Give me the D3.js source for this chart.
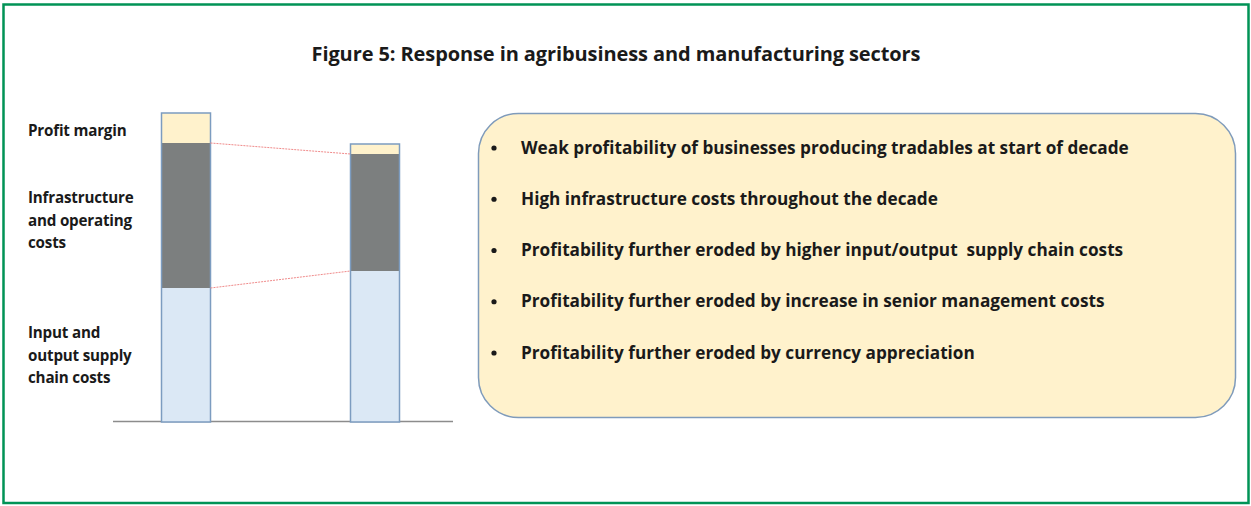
<!DOCTYPE html>
<html>
<head>
<meta charset="utf-8">
<script src="https://cdn.jsdelivr.net/npm/d3@7"></script>
<style>
  body { margin: 0; background: #fff; }
  svg text { font-family: "Open Sans", sans-serif; font-weight: bold; fill: #1a1a1a; }
</style>
</head>
<body>
<svg id="chart" width="1251" height="506"></svg>
<script>
// data
const title = "Figure 5: Response in agribusiness and manufacturing sectors";
const layers = ["input", "infra", "profit"];
const layerLabels = [
  ["Input and", "output supply", "chain costs"],
  ["Infrastructure", "and operating", "costs"],
  ["Profit margin"]
];
const periods = ["Start", "End"];
const inputCosts = [134, 151];
const infraCosts = [145, 117];
const profitMargin = [30, 10];
const bullets = [
  "Weak profitability of businesses producing tradables at start of decade",
  "High infrastructure costs throughout the decade",
  "Profitability further eroded by higher input/output  supply chain costs",
  "Profitability further eroded by increase in senior management costs",
  "Profitability further eroded by currency appreciation"
];

const svg = d3.select("#chart");
const colors = { input: "#dbe8f5", infra: "#7c7f7f", profit: "#fff2cc" };

// frame
svg.append("rect")
  .attr("x", 3.5).attr("y", 4.5)
  .attr("width", 1245).attr("height", 498.5)
  .attr("fill", "none")
  .attr("stroke", "#009356")
  .attr("stroke-width", 2.5);

svg.append("text")
  .attr("x", 616).attr("y", 61)
  .attr("text-anchor", "middle")
  .style("font-size", "20px")
  .style("letter-spacing", "-0.1px")
  .text(title);

// stacked bars
const rows = periods.map((p, i) => ({
  period: p, input: inputCosts[i], infra: infraCosts[i], profit: profitMargin[i]
}));
const stacked = d3.stack().keys(layers)(rows);

const x = d3.scalePoint().domain(periods).range([186, 375]);
const y = d3.scaleLinear().domain([0, 309]).range([422, 113]);
const barW = 49;

svg.append("line")
  .attr("x1", 113).attr("x2", 453)
  .attr("y1", y(0) - 0.5).attr("y2", y(0) - 0.5)
  .attr("stroke", "#8c8c8c").attr("stroke-width", 1.5);

svg.append("g").selectAll("g")
  .data(stacked)
  .join("g")
  .attr("fill", d => colors[d.key])
  .selectAll("rect")
  .data(d => d)
  .join("rect")
  .attr("x", d => x(d.data.period) - barW / 2)
  .attr("y", d => y(d[1]))
  .attr("width", barW)
  .attr("height", d => y(d[0]) - y(d[1]));

// bar outlines
svg.append("g").selectAll("rect")
  .data(rows)
  .join("rect")
  .attr("x", d => x(d.period) - barW / 2)
  .attr("y", d => y(d.input + d.infra + d.profit))
  .attr("width", barW)
  .attr("height", d => y(0) - y(d.input + d.infra + d.profit))
  .attr("fill", "none")
  .attr("stroke", "#7c9cc0")
  .attr("stroke-width", 1.5);

// connector lines
[inputCosts, inputCosts.map((v, i) => v + infraCosts[i])].forEach(tops => {
  svg.append("line")
    .attr("x1", x(periods[0]) + barW / 2).attr("y1", y(tops[0]))
    .attr("x2", x(periods[1]) - barW / 2).attr("y2", y(tops[1]))
    .attr("stroke", "#f08a8a")
    .attr("stroke-width", 1)
    .attr("stroke-dasharray", "2,1");
});

// layer labels on the left
const labelY = [333, 198, 131];
layerLabels.forEach((lines, i) => {
  svg.append("text")
    .attr("x", 28).attr("y", labelY[i] + 5)
    .style("font-size", "15.2px")
    .style("letter-spacing", "-0.2px")
    .selectAll("tspan")
    .data(lines)
    .join("tspan")
    .attr("x", 28)
    .attr("dy", (d, j) => j === 0 ? 0 : 22.5)
    .text(d => d);
});

// rounded text box
svg.append("rect")
  .attr("x", 478.5).attr("y", 113.5)
  .attr("width", 757).attr("height", 304)
  .attr("rx", 40).attr("ry", 40)
  .attr("fill", "#fff2cc")
  .attr("stroke", "#7f9bbb")
  .attr("stroke-width", 1.5);

const by = d3.scalePoint().domain(d3.range(bullets.length)).range([148, 353]);
const bg = svg.append("g").selectAll("g")
  .data(bullets)
  .join("g")
  .attr("transform", (d, i) => `translate(0,${by(i)})`);
bg.append("circle").attr("cx", 494).attr("cy", 0).attr("r", 2.6).attr("fill", "#1a1a1a");
bg.append("text").attr("x", 521).attr("y", 5.5)
  .style("font-size", "17.2px")
  .style("white-space", "pre")
  .text(d => d);
</script>
</body>
</html>
